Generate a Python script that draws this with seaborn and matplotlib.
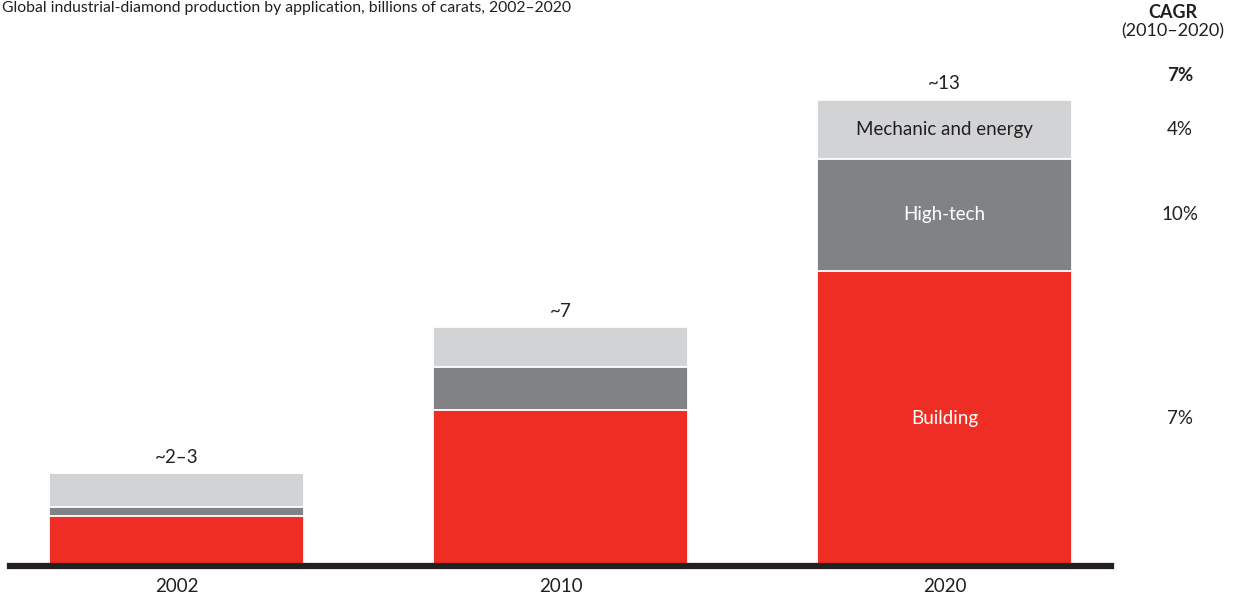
import matplotlib
matplotlib.use("Agg")
import matplotlib.pyplot as plt
import matplotlib.transforms as mtransforms
import seaborn as sns
import pandas as pd
import numpy as np

# ---- data ----
years = ["2002", "2010", "2020"]
building = [1.41, 4.38, 8.29]
high_tech = [0.26, 1.21, 3.15]
mechanic = [0.93, 1.12, 1.66]
total_labels = ["~2\u20133", "~7", "~13"]
segment_names = ["Building", "High-tech", "Mechanic and energy"]
cagr_segments = ["7%", "10%", "4%"]   # building, high-tech, mechanic
cagr_total = "7%"
title = "Global industrial-diamond production by application, billions of carats, 2002\u20132020"

RED = "#EE2E24"
DARK = "#808285"
LIGHT = "#D1D3D4"
TXT = "#231F20"

sns.set_theme(style="white")
plt.rcParams["font.family"] = ["Lato", "DejaVu Sans"]

df = pd.DataFrame({"year": years, "building": building,
                   "high_tech": high_tech, "mechanic": mechanic})
df["lvl2"] = df["building"] + df["high_tech"]
df["total"] = df["lvl2"] + df["mechanic"]

fig = plt.figure(figsize=(12.36, 6.0), dpi=100)
ax = fig.add_axes([10 / 1236, 34 / 600, (1111 - 10) / 1236, 526 / 600])

bw = 0.664
sns.barplot(data=df, x="year", y="total", color=LIGHT, saturation=1,
            width=bw, edgecolor="white", linewidth=1.3, ax=ax)
sns.barplot(data=df, x="year", y="lvl2", color=DARK, saturation=1,
            width=bw, edgecolor="white", linewidth=1.3, ax=ax)
sns.barplot(data=df, x="year", y="building", color=RED, saturation=1,
            width=bw, edgecolor="white", linewidth=1.3, ax=ax)

ax.set_xlim(-0.434, 2.434)
ax.set_ylim(0, 526 / 35.6)
ax.set_xlabel("")
ax.set_ylabel("")
ax.set_yticks([])
for s in ["top", "left", "right"]:
    ax.spines[s].set_visible(False)
ax.spines["bottom"].set_linewidth(4.5)
ax.spines["bottom"].set_color(TXT)
ax.spines["bottom"].set_zorder(5)
ax.tick_params(axis="x", length=0, labelsize=13.5, colors=TXT, pad=9)

FS = 13.5
# total labels
for i, (t, lab) in enumerate(zip(df["total"], total_labels)):
    ax.text(i, t + 0.45, lab, ha="center", va="center", fontsize=FS, color=TXT)

# segment labels on 2020 bar
i = 2
ax.text(i, df["building"][i] / 2, segment_names[0], ha="center", va="center",
        fontsize=FS, color="white")
ax.text(i, df["building"][i] + df["high_tech"][i] / 2, segment_names[1],
        ha="center", va="center", fontsize=FS, color="white")
ax.text(i, df["lvl2"][i] + df["mechanic"][i] / 2, segment_names[2],
        ha="center", va="center", fontsize=FS, color=TXT)

# CAGR column
tr = mtransforms.blended_transform_factory(fig.transFigure, ax.transData)
cx = 1180 / 1236
ax.text(cx, df["building"][i] / 2, cagr_segments[0], transform=tr,
        ha="center", va="center", fontsize=FS, color=TXT)
ax.text(cx, df["building"][i] + df["high_tech"][i] / 2, cagr_segments[1],
        transform=tr, ha="center", va="center", fontsize=FS, color=TXT)
ax.text(cx, df["lvl2"][i] + df["mechanic"][i] / 2, cagr_segments[2],
        transform=tr, ha="center", va="center", fontsize=FS, color=TXT)
ax.text(cx, df["total"][i] + 0.67, cagr_total, transform=tr,
        ha="center", va="center", fontsize=FS, color=TXT, fontweight="bold")
hx = 1173 / 1236
fig.text(hx, 1 - 13 / 600, "CAGR", ha="center", va="center", fontsize=13,
         color=TXT, fontweight="bold")
fig.text(hx, 1 - 31 / 600, "(2010\u20132020)", ha="center", va="center",
         fontsize=13, color=TXT)

fig.text(0.002, 1 - 12 / 600, title, ha="left", va="baseline", fontsize=11.3,
         color=TXT)

fig.savefig("out.png", dpi=100, facecolor="white")
